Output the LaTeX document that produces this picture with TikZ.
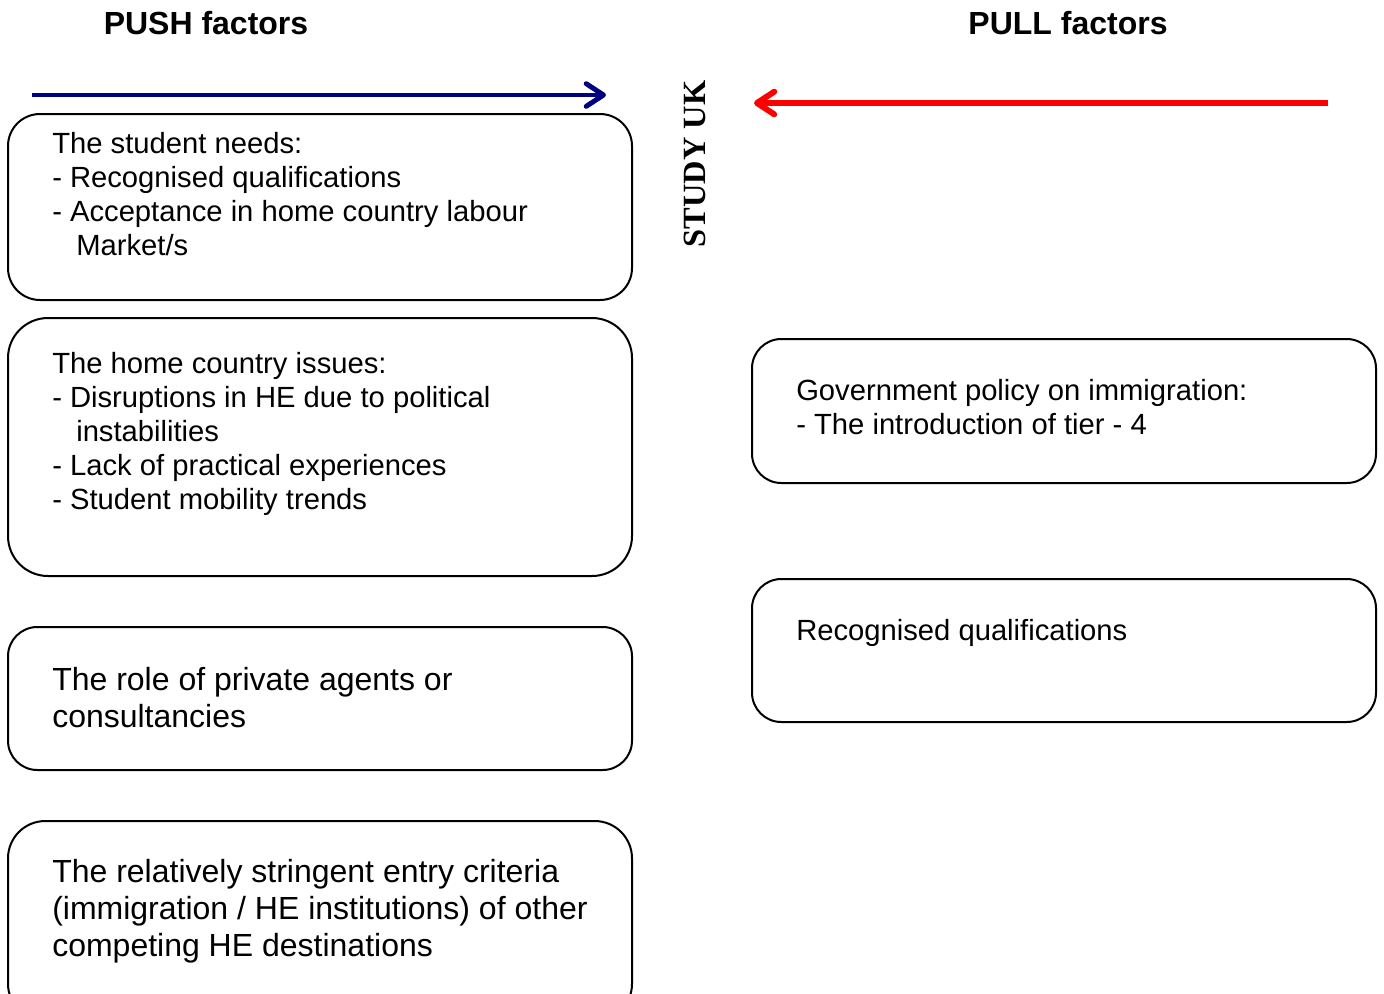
\documentclass[tikz,border=0pt]{standalone}
\usepackage{fontspec}
\setmainfont{Liberation Sans}
\newfontfamily\studyfont{Liberation Serif}
\usetikzlibrary{arrows.meta}
\definecolor{pushblue}{RGB}{0,0,128}
\definecolor{pullred}{RGB}{255,0,0}

\begin{document}
\begin{tikzpicture}[x=0.75pt,y=-0.75pt,
  factorbox/.style={draw=black, line width=1.5pt, rectangle, inner sep=0pt,
    outer sep=0pt, minimum width=468pt, anchor=north west},
  bodytext/.style={anchor=north west, inner sep=0pt, align=left,
    font=\fontsize{21.9}{25.5}\selectfont},
  bigtext/.style={anchor=north west, inner sep=0pt, align=left,
    font=\fontsize{24}{27.75}\selectfont},
  heading/.style={anchor=base, inner sep=0pt,
    font=\fontsize{24}{28}\selectfont\bfseries},
  pusharrow/.style={draw=pushblue, line width=3.7pt,
    -{Straight Barb[length=13pt, width=17pt, round]}},
  pullarrow/.style={draw=pullred, line width=4.4pt,
    -{Straight Barb[length=13pt, width=17pt, round]}}]

\useasboundingbox (0,0) rectangle (1384,993);
\clip (0,0) rectangle (1384,993);

% column headings
\node[heading] (push) at (206,34.5) {PUSH factors};
\node[heading] (pull) at (1068,34.5) {PULL factors};

% centre label
\node[rotate=90, inner sep=0pt, font=\studyfont\fontsize{24.3}{28}\selectfont\bfseries]
  (study) at (695,164) {STUDY UK};

% direction arrows
\coordinate (pushstart) at (32,95);
\coordinate (pushend) at (606,95);
\coordinate (pullstart) at (1328,103);
\coordinate (pullend) at (754,103);
\draw[pusharrow] (pushstart) -- (pushend);
\draw[pullarrow] (pullstart) -- (pullend);

% push factor boxes
\node[factorbox, minimum height=139.5pt, rounded corners=24pt] (needs) at (8,114) {};
\node[bodytext] (needstext) at (52,131.6) {The student needs:\\
- Recognised qualifications\\
- Acceptance in home country labour\\
\hspace*{18pt}Market/s};

\node[factorbox, minimum height=193.5pt, rounded corners=30pt] (issues) at (8,318) {};
\node[bodytext] (issuestext) at (52,351.6) {The home country issues:\\
- Disruptions in HE due to political\\
\hspace*{18pt}instabilities\\
- Lack of practical experiences\\
- Student mobility trends};

\node[factorbox, minimum height=107.25pt, rounded corners=22pt] (agents) at (8,627) {};
\node[bigtext] (agentstext) at (52,667.5) {The role of private agents or\\
consultancies};

\node[factorbox, minimum height=150pt, rounded corners=28pt] (criteria) at (8,821) {};
\node[bigtext] (criteriatext) at (52,859.5) {The relatively stringent entry criteria\\
(immigration / HE institutions) of other\\
competing HE destinations};

% pull factor boxes
\node[factorbox, minimum height=108pt, rounded corners=22pt] (policy) at (752,339) {};
\node[bodytext] (policytext) at (796,378.6) {Government policy on immigration:\\
- The introduction of tier - 4};

\node[factorbox, minimum height=107.25pt, rounded corners=22pt] (quals) at (752,579) {};
\node[bodytext] (qualstext) at (796,618.6) {Recognised qualifications};

\end{tikzpicture}
\end{document}
